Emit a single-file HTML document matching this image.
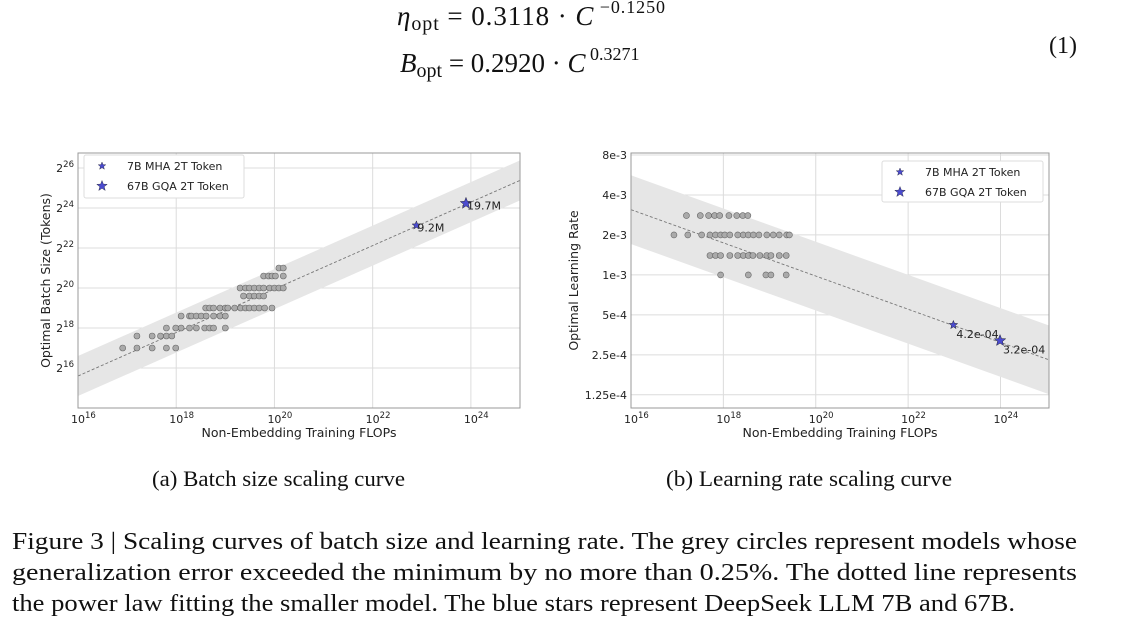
<!DOCTYPE html>
<html><head><meta charset="utf-8"><style>
html,body{margin:0;padding:0;background:#fff;}
svg{display:block;}
.serif{font-family:"Liberation Serif",serif;fill:#111;}
.tick{font-family:"DejaVu Sans","Liberation Sans",sans-serif;font-size:11px;fill:#222;}
.lab{font-family:"DejaVu Sans","Liberation Sans",sans-serif;font-size:12.5px;fill:#222;}
</style></head><body>
<svg id="fig" width="1135" height="639" xmlns="http://www.w3.org/2000/svg">
<g>
<text class="serif" x="397" y="25" font-size="27" font-style="italic" textLength="268">η<tspan font-style="normal" font-size="20" dy="5">opt</tspan><tspan font-style="normal" font-size="27" dy="-5"> = 0.3118 · </tspan>C<tspan font-style="normal" font-size="18" dy="-12"> −0.1250</tspan></text>
<text class="serif" x="400" y="72" font-size="27" font-style="italic">B<tspan font-style="normal" font-size="20" dy="5">opt</tspan><tspan font-style="normal" font-size="27" dy="-5"> = 0.2920 · </tspan>C<tspan font-style="normal" font-size="18" dy="-12"> 0.3271</tspan></text>
<text class="serif" x="1049" y="53" font-size="24">(1)</text>
</g>
<g id="chartA"></g>
<g id="chartB"></g>
<text class="serif" x="152" y="486" font-size="22" textLength="253" lengthAdjust="spacingAndGlyphs">(a)  Batch size scaling curve</text>
<text class="serif" x="666" y="486" font-size="22" textLength="286" lengthAdjust="spacingAndGlyphs">(b)  Learning rate scaling curve</text>
<g>
<text class="serif" x="12" y="549" font-size="24" textLength="1065" lengthAdjust="spacingAndGlyphs">Figure 3 | Scaling curves of batch size and learning rate. The grey circles represent models whose</text>
<text class="serif" x="12" y="580" font-size="24" textLength="1065" lengthAdjust="spacingAndGlyphs">generalization error exceeded the minimum by no more than 0.25%. The dotted line represents</text>
<text class="serif" x="12" y="611" font-size="24" textLength="1003" lengthAdjust="spacingAndGlyphs">the power law fitting the smaller model. The blue stars represent DeepSeek LLM 7B and 67B.</text>
</g>
</svg>
<script>
// ---- Chart A data (x: log10 FLOPs, y: log2 batch size tokens) ----
const aPointsX = [16.91,17.2,17.51,17.8,17.99, 17.2,17.51,17.68,17.8,17.91,
 17.8,17.99,18.1,18.27,18.41,18.58,18.68,18.76,19.0,
 18.1,18.27,18.31,18.41,18.51,18.61,18.76,18.89,19.0,
 18.6,18.68,18.76,18.89,19.0,19.05,19.19,19.31,19.41,19.49,19.59,19.69,19.8,19.95,
 19.37,19.49,19.59,19.69,19.78,
 19.3,19.41,19.49,19.59,19.69,19.78,19.9,20.0,20.09,20.18,
 19.78,19.88,19.95,20.02,20.18, 20.09,20.18];
const aPointsY = [17,17,17,17,17, 17.6,17.6,17.6,17.6,17.6,
 18,18,18,18,18,18,18,18,18,
 18.6,18.6,18.6,18.6,18.6,18.6,18.6,18.6,18.6,
 19,19,19,19,19,19,19,19,19,19,19,19,19,19,
 19.6,19.6,19.6,19.6,19.6,
 20,20,20,20,20,20,20,20,20,20,
 20.6,20.6,20.6,20.6,20.6, 21,21];
const aStarX = [22.89, 23.9];
const aStarY = [23.13, 24.23];
const aStarLabels = ["9.2M", "19.7M"];
const aFitIntercept = 15.6, aFitSlope = 1.0866, aBand = 1.0;
const aXTicks = [16,18,20,22,24];
const aYTicks = [16,18,20,22,24,26];

// ---- Chart B data (x: log10 FLOPs, y: log2 learning rate) ----
const bRowVals = [0.0028, 0.002, 0.0014, 0.001];
const bPointsX = [
 [17.2,17.5,17.68,17.81,17.92,18.12,18.29,18.42,18.53],
 [16.93,17.23,17.53,17.71,17.83,17.94,18.03,18.14,18.31,18.43,18.54,18.65,18.77,18.94,19.08,19.21,19.37,19.43],
 [17.71,17.83,17.94,18.14,18.31,18.43,18.54,18.64,18.79,18.94,19.03,19.21,19.36],
 [17.94,18.54,18.92,19.03,19.36]];
const bStarX = [22.98, 23.99];
const bStarY = [4.2e-4, 3.2e-4];
const bStarLabels = ["4.2e-04", "3.2e-04"];
const bFitAt16 = 0.0031, bFitSlope = -0.125*Math.log2(10), bBand = 0.86;
const bXTicks = [16,18,20,22,24];
const bYTicks = [8e-3,4e-3,2e-3,1e-3,5e-4,2.5e-4,1.25e-4];
const bYTickLabels = ["8e-3","4e-3","2e-3","1e-3","5e-4","2.5e-4","1.25e-4"];
const legendLabels = ["7B MHA 2T Token", "67B GQA 2T Token"];

const NS = "http://www.w3.org/2000/svg";
function mk(parent, tag, attrs){const e=document.createElementNS(NS,tag);for(const k in attrs)e.setAttribute(k,attrs[k]);parent.appendChild(e);return e;}
function starPath(cx,cy,r){let p="";for(let i=0;i<10;i++){const a=-Math.PI/2+i*Math.PI/5;const rr=i%2?r*0.42:r;p+=(i?"L":"M")+(cx+rr*Math.cos(a)).toFixed(2)+","+(cy+rr*Math.sin(a)).toFixed(2);}return p+"Z";}

function drawChart(g, o){
  const sx = v => o.L + (v - o.x0)/(o.x1 - o.x0)*(o.R - o.L);
  const sy = v => o.B - (v - o.y0)/(o.y1 - o.y0)*(o.B - o.T);
  o.xTicks.forEach(t=>{
    const l=mk(g,"line",{x1:sx(t),x2:sx(t),y1:o.T,y2:o.B,stroke:"#dcdcdc","stroke-width":1});
    
    
  });
  o.yTicks.forEach(t=>{
    const l=mk(g,"line",{x1:o.L,x2:o.R,y1:sy(t),y2:sy(t),stroke:"#dcdcdc","stroke-width":1});
    
    
  });
  const f0=o.fit(o.x0), f1=o.fit(o.x1);
  const band=mk(g,"polygon",{points:`${sx(o.x0)},${sy(f0+o.band)} ${sx(o.x1)},${sy(f1+o.band)} ${sx(o.x1)},${sy(f1-o.band)} ${sx(o.x0)},${sy(f0-o.band)}`,fill:"#e6e6e6"});
  
  
  const fl=mk(g,"line",{x1:sx(o.x0),y1:sy(f0),x2:sx(o.x1),y2:sy(f1),stroke:"#777","stroke-width":0.9,"stroke-dasharray":"3,2"});
  
  
  o.px.forEach((x,i)=>{
    const c=mk(g,"circle",{cx:sx(x),cy:sy(o.py[i]),r:3,fill:"#aaa",stroke:"#666","stroke-width":0.6});
    
    
  });
  o.sX.forEach((x,i)=>{
    const s=mk(g,"path",{d:starPath(sx(x),sy(o.sY[i]),i?6:4.5),fill:"#4b4bcf",stroke:"#223","stroke-width":0.5});
    
    
    const t=mk(g,"text",{x:sx(x)+o.labDx,y:sy(o.sY[i])+o.labDy,class:"tick","font-size":"12"});
    t.textContent=o.sLab[i];
    
    
  });
  const fr=mk(g,"rect",{x:o.L,y:o.T,width:o.R-o.L,height:o.B-o.T,fill:"none",stroke:"#999","stroke-width":1});
  
  
  o.xTicks.forEach(t=>{
    const tx=mk(g,"text",{x:sx(t)-7,y:o.B+15,class:"tick"});
    tx.innerHTML="10<tspan dy='-5' font-size='8.5'>"+t+"</tspan>";
    
    
  });
  o.yTicks.forEach((t,i)=>{
    const ty=mk(g,"text",{x:o.L-4,y:sy(t)+4,class:"tick","text-anchor":"end"});
    if(o.yLab) ty.textContent=o.yLab[i]; else ty.innerHTML="2<tspan dy='-5' font-size='8.5'>"+t+"</tspan><tspan dy='5'> </tspan>";
    
    
  });
  const xl=mk(g,"text",{x:(o.L+o.R)/2,y:o.B+29,class:"lab","text-anchor":"middle"});
  xl.textContent="Non-Embedding Training FLOPs";
  
  
  const yl=mk(g,"text",{x:0,y:0,class:"lab","text-anchor":"middle",transform:`translate(${o.yTitleX},${(o.T+o.B)/2}) rotate(-90)`});
  yl.textContent=o.yTitle;
  
  
  const lg=mk(g,"g",{});
  
  
  mk(lg,"rect",{x:o.lg[0],y:o.lg[1],width:o.lg[2],height:o.lg[3],fill:"#fff",stroke:"#ddd",rx:2});
  legendLabels.forEach((lab,i)=>{
    const yy=o.lg[1]+11+i*20;
    const st=mk(lg,"path",{d:starPath(o.lg[0]+18,yy,i?5.5:4),fill:"#4b4bcf",stroke:"#223","stroke-width":0.4});
    
    
    const tt=mk(lg,"text",{x:o.lg[0]+43,y:yy+4,class:"tick","font-size":"12"});
    tt.textContent=lab;
    
    
  });
}

drawChart(document.getElementById("chartA"),{
  L:78,R:520,T:153,B:408,x0:16,x1:25,y0:14,y1:26.75,
  xTicks:aXTicks,yTicks:aYTicks,
  fit:x=>aFitIntercept+aFitSlope*(x-16),band:aBand,
  px:aPointsX,py:aPointsY,sX:aStarX,sY:aStarY.map(v=>v),sLab:aStarLabels,labDx:1,labDy:6,
  yTitle:"Optimal Batch Size (Tokens)",yTitleX:50,lg:[84,155,160,43]
});
const bx=[],by=[];
bPointsX.forEach((row,r)=>row.forEach(x=>{bx.push(x);by.push(Math.log2(bRowVals[r]));}));
drawChart(document.getElementById("chartB"),{
  L:631,R:1049,T:153,B:408,x0:16,x1:25.05,y0:Math.log2(1.25e-4)-0.33,y1:Math.log2(8e-3)+0.05,
  xTicks:bXTicks,yTicks:bYTicks.map(Math.log2),yLab:bYTickLabels,
  fit:x=>Math.log2(bFitAt16)+bFitSlope*(x-16),band:bBand,
  px:bx,py:by,sX:bStarX,sY:bStarY.map(Math.log2),sLab:bStarLabels,labDx:3,labDy:13,
  yTitle:"Optimal Learning Rate",yTitleX:578,lg:[882,161,161,41]
});
</script>
</body></html>
